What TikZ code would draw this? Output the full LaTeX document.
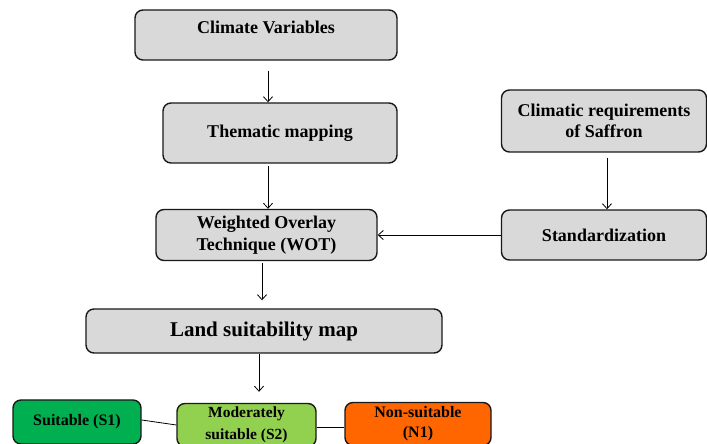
\documentclass[tikz,border=0pt]{standalone}
\usepackage{xcolor}
\usepackage{fontspec}
\setmainfont{Liberation Serif}
\usepackage{tikz}
\usetikzlibrary{positioning, shapes, arrows.meta}

\definecolor{boxgray}{HTML}{D9D9D9}
\definecolor{suitgreen}{HTML}{00B050}
\definecolor{modgreen}{HTML}{92D050}
\definecolor{nonorange}{HTML}{FF6600}

\begin{document}
\begin{tikzpicture}[x=1pt, y=1pt,
  box/.style={draw=black!90, line width=1.4pt, rounded corners=8pt, fill=boxgray,
    align=center, inner sep=0pt, font=\bfseries\fontsize{18}{21.5}\selectfont},
  classbox/.style={box, font=\bfseries\fontsize{15.5}{22}\selectfont},
  arr/.style={-{Straight Barb[length=5pt, width=9pt]}, line width=0.8pt}]
  \useasboundingbox (0,0) rectangle (707,444);

  \node (vars) [box, minimum width=262pt, minimum height=50pt] at (266,409) {\raisebox{16pt}{Climate Variables}};
  \node (mapping) [box, minimum width=234pt, minimum height=60pt] at (280,311) {Thematic mapping};
  \node (needs) [box, minimum width=205pt, minimum height=62pt] at (604,323) {Climatic requirements\\of Saffron};
  \node (standard) [box, minimum width=205pt, minimum height=50pt] at (604,209) {Standardization};
  \node (wot) [box, minimum width=221pt, minimum height=51pt] at (266.5,209) {Weighted Overlay\\Technique (WOT)};
  \node (landmap) [box, minimum width=356pt, minimum height=44pt, font=\bfseries\fontsize{21}{24}\selectfont] at (264,113) {Land suitability map};
  \node (s1) [classbox, fill=suitgreen, minimum width=128pt, minimum height=44pt, font=\bfseries\fontsize{16}{22}\selectfont] at (77,22) {Suitable (S1)};
  \node (s2) [classbox, fill=modgreen, minimum width=139pt, minimum height=43pt] at (246.5,19) {Moderately\\suitable (S2)};
  \node (n1) [classbox, fill=nonorange, minimum width=146pt, minimum height=43pt, font=\bfseries\fontsize{16}{20}\selectfont] at (418,20) {Non-suitable\\(N1)};

  \draw [arr] ([xshift=2pt, yshift=-10pt]vars.south) -- ([xshift=-12pt]mapping.north);
  \draw [arr] ([xshift=-12pt, yshift=-2pt]mapping.south) -- ([xshift=1.5pt]wot.north);
  \draw [arr] ([xshift=3pt, yshift=-5pt]needs.south) -- ([xshift=3pt]standard.north);
  \draw [arr] (standard.west) -- (wot.east);
  \draw [arr] ([xshift=-4.5pt, yshift=-2pt]wot.south) -- ([xshift=-2pt, yshift=8pt]landmap.north);
  \draw [arr] ([xshift=-5pt]landmap.south) -- ([xshift=12.5pt, yshift=11pt]s2.north);
  \draw [line width=0.8pt] ([yshift=2pt]s1.east) -- ([yshift=0pt]s2.west);
  \draw [line width=0.8pt] ([yshift=-2pt]s2.east) -- ([yshift=-3pt]n1.west);
\end{tikzpicture}
\end{document}
